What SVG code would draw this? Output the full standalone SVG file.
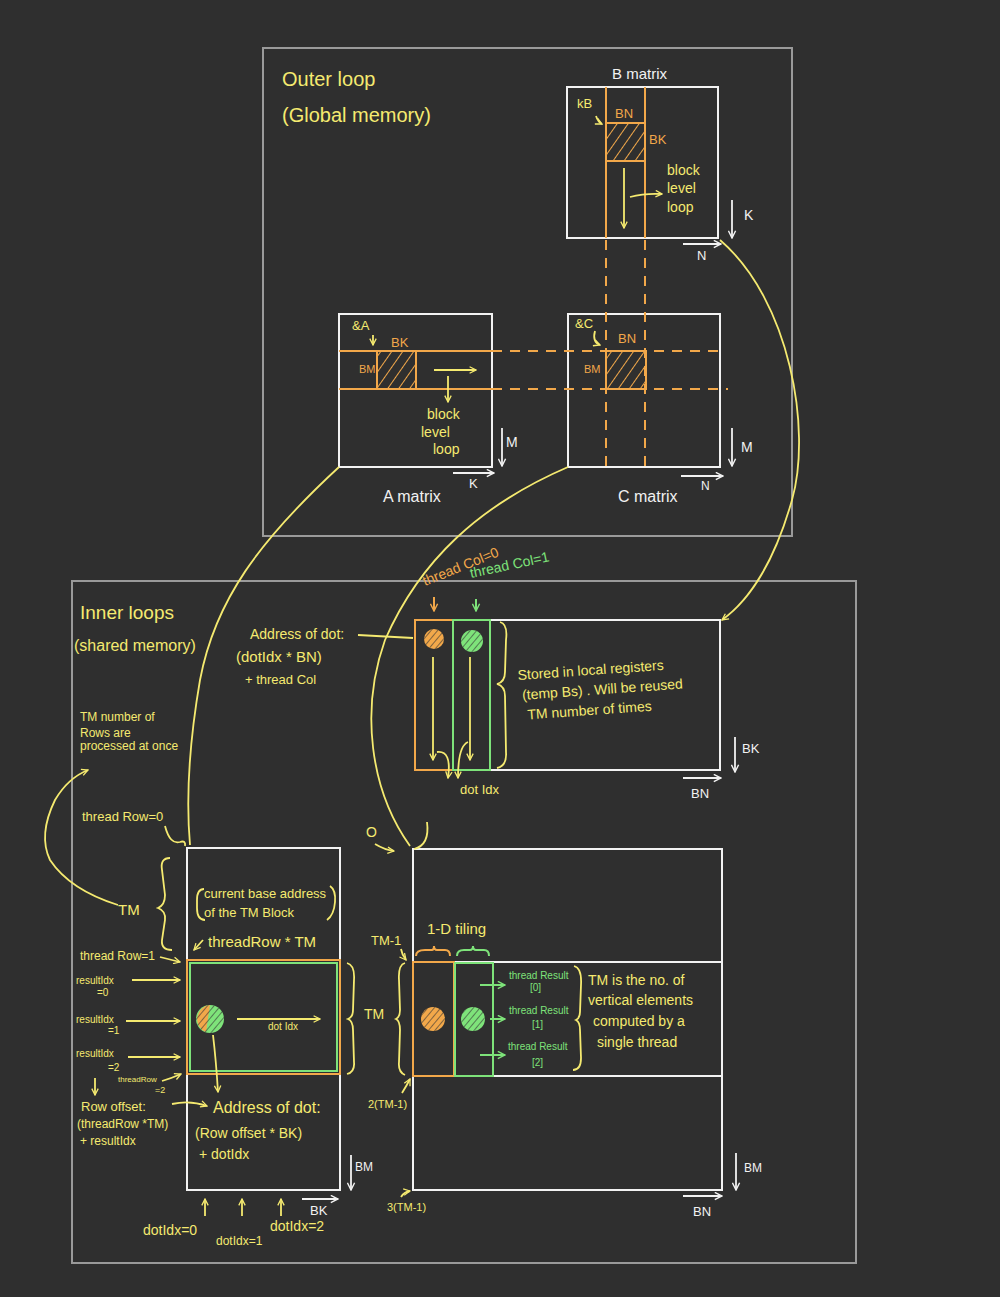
<svg xmlns="http://www.w3.org/2000/svg" width="1000" height="1297" viewBox="0 0 1000 1297">
<style>
text{font-family:"Liberation Sans","DejaVu Sans",sans-serif}
.frame{fill:none;stroke:#9a9a9a;stroke-width:2}
.box{fill:none;stroke:#f2f2f2;stroke-width:2}
.ol{fill:none;stroke:#f2a84a;stroke-width:2}
.od{fill:none;stroke:#f2a84a;stroke-width:2;stroke-dasharray:10 8}
.gl{fill:none;stroke:#7ee37a;stroke-width:2}
.yl{fill:none;stroke:#f5ea70;stroke-width:1.8}
.wl{fill:none;stroke:#f2f2f2;stroke-width:1.8}
.ty{fill:#f5ea70}
.tw{fill:#f2f2f2}
.to{fill:#f2a84a}
.tg{fill:#7ee37a}
</style>
<defs>
<pattern id="hatch" width="9" height="9" patternUnits="userSpaceOnUse" patternTransform="rotate(35)">
<line x1="0" y1="0" x2="0" y2="9" stroke="#f2a84a" stroke-width="2"/>
</pattern>
<pattern id="hatchD" width="5" height="5" patternUnits="userSpaceOnUse" patternTransform="rotate(40)">
<line x1="0" y1="0" x2="0" y2="5" stroke="#333" stroke-width="1.2"/>
</pattern>
<marker id="ay" viewBox="0 0 10 10" refX="9" refY="5" markerWidth="8" markerHeight="8" orient="auto-start-reverse" markerUnits="userSpaceOnUse"><path d="M1,1 L9,5 L1,9" fill="none" stroke="#f5ea70" stroke-width="1.6"/></marker>
<marker id="aw" viewBox="0 0 10 10" refX="9" refY="5" markerWidth="9" markerHeight="9" orient="auto-start-reverse" markerUnits="userSpaceOnUse"><path d="M1,1 L9,5 L1,9" fill="none" stroke="#f2f2f2" stroke-width="1.6"/></marker>
<marker id="ao" viewBox="0 0 10 10" refX="9" refY="5" markerWidth="9" markerHeight="9" orient="auto-start-reverse" markerUnits="userSpaceOnUse"><path d="M1,1 L9,5 L1,9" fill="none" stroke="#f2a84a" stroke-width="1.6"/></marker>
<marker id="ag" viewBox="0 0 10 10" refX="9" refY="5" markerWidth="9" markerHeight="9" orient="auto-start-reverse" markerUnits="userSpaceOnUse"><path d="M1,1 L9,5 L1,9" fill="none" stroke="#7ee37a" stroke-width="1.6"/></marker>
</defs>
<rect width="1000" height="1297" fill="#2f2f2f"/>

<g id="outer-frame">
<rect class="frame" x="263" y="48" width="529" height="488"/>
<text class="ty" x="282" y="86" font-size="20">Outer loop</text>
<text class="ty" x="282" y="122" font-size="20">(Global memory)</text>
</g>

<g id="b-matrix">
<text class="tw" x="612" y="79" font-size="15">B matrix</text>
<rect class="box" x="567" y="87" width="151" height="151"/>
<line class="ol" x1="606" y1="87" x2="606" y2="238"/>
<line class="ol" x1="645" y1="87" x2="645" y2="238"/>
<rect x="606" y="123" width="39" height="38" fill="url(#hatch)" stroke="#f2a84a" stroke-width="2"/>
<text class="to" x="615" y="118" font-size="13">BN</text>
<text class="to" x="649" y="144" font-size="13">BK</text>
<text class="ty" x="577" y="108" font-size="13">kB</text>
<path class="yl" d="M596,116 Q598,122 602,124" marker-end="url(#ay)"/>
<line class="yl" x1="624" y1="168" x2="624" y2="228" marker-end="url(#ay)"/>
<path class="yl" d="M630,197 Q645,193 662,194" marker-end="url(#ay)"/>
<text class="ty" x="667" y="175" font-size="14">block</text>
<text class="ty" x="667" y="193" font-size="14">level</text>
<text class="ty" x="667" y="212" font-size="14">loop</text>
<line class="wl" x1="732" y1="200" x2="732" y2="238" marker-end="url(#aw)"/>
<text class="tw" x="744" y="220" font-size="14">K</text>
<line class="wl" x1="683" y1="244" x2="721" y2="244" marker-end="url(#aw)"/>
<text class="tw" x="697" y="260" font-size="13">N</text>
</g>

<g id="a-matrix">
<rect class="box" x="339" y="314" width="153" height="153"/>
<line class="ol" x1="339" y1="351" x2="492" y2="351"/>
<line class="ol" x1="339" y1="389" x2="492" y2="389"/>
<rect x="377" y="351" width="39" height="38" fill="url(#hatch)" stroke="#f2a84a" stroke-width="2"/>
<text class="ty" x="352" y="330" font-size="13">&amp;A</text>
<path class="yl" d="M373,335 L373,345" marker-end="url(#ay)"/>
<text class="to" x="391" y="347" font-size="13">BK</text>
<text class="to" x="359" y="373" font-size="11">BM</text>
<line class="yl" x1="434" y1="370" x2="476" y2="370" marker-end="url(#ay)"/>
<line class="yl" x1="448" y1="376" x2="448" y2="402" marker-end="url(#ay)"/>
<text class="ty" x="427" y="419" font-size="14">block</text>
<text class="ty" x="421" y="437" font-size="14">level</text>
<text class="ty" x="433" y="454" font-size="14">loop</text>
<line class="wl" x1="502" y1="428" x2="502" y2="466" marker-end="url(#aw)"/>
<text class="tw" x="506" y="447" font-size="14">M</text>
<line class="wl" x1="453" y1="473" x2="494" y2="473" marker-end="url(#aw)"/>
<text class="tw" x="469" y="488" font-size="13">K</text>
<text class="tw" x="383" y="502" font-size="16">A  matrix</text>
</g>

<g id="c-matrix">
<rect class="box" x="568" y="314" width="152" height="153"/>
<line class="od" x1="606" y1="240" x2="606" y2="467"/>
<line class="od" x1="645" y1="240" x2="645" y2="467"/>
<line class="od" x1="492" y1="351" x2="720" y2="351"/>
<line class="od" x1="492" y1="389" x2="728" y2="389"/>
<rect x="606" y="351" width="40" height="38" fill="url(#hatch)" stroke="#f2a84a" stroke-width="2"/>
<text class="ty" x="575" y="328" font-size="13">&amp;C</text>
<path class="yl" d="M595,331 Q592,342 600,345" marker-end="url(#ay)"/>
<text class="to" x="618" y="343" font-size="13">BN</text>
<text class="to" x="584" y="373" font-size="11">BM</text>
<line class="wl" x1="732" y1="428" x2="732" y2="466" marker-end="url(#aw)"/>
<text class="tw" x="741" y="452" font-size="14">M</text>
<line class="wl" x1="681" y1="476" x2="723" y2="476" marker-end="url(#aw)"/>
<text class="tw" x="701" y="490" font-size="12">N</text>
<text class="tw" x="618" y="502" font-size="16">C matrix</text>
</g>

<g id="inner-frame">
<rect class="frame" x="72" y="581" width="784" height="682"/>
<text class="ty" x="80" y="619" font-size="19">Inner loops</text>
<text class="ty" x="74" y="651" font-size="16">(shared memory)</text>
<text class="ty" x="80" y="721" font-size="12">TM number of</text>
<text class="ty" x="80" y="737" font-size="12">Rows are</text>
<text class="ty" x="80" y="750" font-size="12">processed at once</text>
</g>

<g id="b-tile">
<rect class="box" x="415" y="620" width="305" height="150"/>
<rect class="ol" x="415" y="620" width="38" height="150"/>
<rect class="gl" x="453" y="620" width="37" height="150"/>
<circle cx="434" cy="639" r="10" fill="#f2a84a"/>
<circle cx="434" cy="639" r="10" fill="url(#hatchD)"/>
<circle cx="472" cy="641" r="11" fill="#7ee37a"/>
<circle cx="472" cy="641" r="11" fill="url(#hatchD)"/>
<line class="yl" x1="433" y1="657" x2="433" y2="760" marker-end="url(#ay)"/>
<line class="yl" x1="470" y1="657" x2="470" y2="760" marker-end="url(#ay)"/>
<path class="yl" d="M437,752 Q452,750 448,778" marker-end="url(#ay)"/>
<path class="yl" d="M468,742 Q458,746 458,778" marker-end="url(#ay)"/>
<text class="ty" x="460" y="794" font-size="13">dot  Idx</text>
<text class="to" x="425" y="586" font-size="14" transform="rotate(-22 425 586)">thread Col=0</text>
<text class="tg" x="471" y="578" font-size="14" transform="rotate(-12 471 578)">thread Col=1</text>
<line class="ol" x1="434" y1="597" x2="434" y2="611" marker-end="url(#ao)"/>
<line class="gl" x1="476" y1="599" x2="476" y2="611" marker-end="url(#ag)"/>
<path class="yl" d="M500,622 Q508,624 506,640 L505,672 Q505,682 497,684 Q505,686 505,696 L506,752 Q507,766 497,768"/>
<g transform="rotate(-4 518 680)">
<text class="ty" x="518" y="680" font-size="14">Stored in local registers</text>
<text class="ty" x="521" y="700" font-size="14">(temp Bs) . Will be reused</text>
<text class="ty" x="525" y="720" font-size="14">TM  number of times</text>
</g>
<line class="wl" x1="735" y1="737" x2="735" y2="772" marker-end="url(#aw)"/>
<text class="tw" x="742" y="753" font-size="13">BK</text>
<line class="wl" x1="683" y1="778" x2="721" y2="778" marker-end="url(#aw)"/>
<text class="tw" x="691" y="798" font-size="13">BN</text>
<text class="ty" x="250" y="639" font-size="14">Address of dot:</text>
<line class="yl" x1="358" y1="635" x2="413" y2="638"/>
<text class="ty" x="236" y="662" font-size="15">(dotIdx * BN)</text>
<text class="ty" x="245" y="684" font-size="13">+ thread Col</text>
</g>

<g id="a-tile">
<rect class="box" x="187" y="848" width="153" height="342"/>
<rect class="ol" x="187" y="960" width="153" height="114"/>
<rect class="gl" x="190" y="963" width="147" height="108"/>
<circle cx="210" cy="1019" r="14" fill="#7ee37a"/>
<path d="M210,1005 A14,14 0 0 0 206,1032 Z" fill="#f2a84a"/>
<circle cx="210" cy="1019" r="14" fill="url(#hatchD)"/>
<line class="yl" x1="237" y1="1019" x2="320" y2="1019" marker-end="url(#ay)"/>
<text class="ty" x="268" y="1030" font-size="10">dot Idx</text>
<path class="yl" d="M213,1035 Q216,1060 218,1092" marker-end="url(#ay)"/>
<path class="yl" d="M204,889 Q197,889 197,900 L197,908 Q197,920 205,920"/>
<text class="ty" x="204" y="898" font-size="13">current base address</text>
<text class="ty" x="204" y="917" font-size="13">of the TM Block</text>
<path class="yl" d="M330,886 Q336,890 335,902 Q334,915 327,920"/>
<path class="yl" d="M203,940 L194,950" marker-end="url(#ay)"/>
<text class="ty" x="208" y="947" font-size="15">threadRow * TM</text>
<path class="yl" d="M347,963 Q355,965 354,980 L353,1010 Q353,1017 348,1019 Q353,1021 353,1030 L354,1062 Q355,1072 347,1074"/>
<text class="ty" x="364" y="1019" font-size="14">TM</text>
<text class="ty" x="213" y="1113" font-size="16">Address of dot:</text>
<text class="ty" x="195" y="1138" font-size="14">(Row offset * BK)</text>
<text class="ty" x="199" y="1159" font-size="14">+ dotIdx</text>
<line class="wl" x1="351" y1="1155" x2="351" y2="1190" marker-end="url(#aw)"/>
<text class="tw" x="355" y="1171" font-size="12">BM</text>
<line class="wl" x1="302" y1="1199" x2="338" y2="1199" marker-end="url(#aw)"/>
<text class="tw" x="310" y="1215" font-size="13">BK</text>
<line class="yl" x1="205" y1="1216" x2="205" y2="1199" marker-end="url(#ay)"/>
<line class="yl" x1="242" y1="1216" x2="242" y2="1199" marker-end="url(#ay)"/>
<line class="yl" x1="281" y1="1216" x2="281" y2="1199" marker-end="url(#ay)"/>
<text class="ty" x="143" y="1235" font-size="14">dotIdx=0</text>
<text class="ty" x="216" y="1245" font-size="12">dotIdx=1</text>
<text class="ty" x="270" y="1231" font-size="14">dotIdx=2</text>
</g>

<g id="left-labels">
<text class="ty" x="82" y="821" font-size="13">thread Row=0</text>
<path class="yl" d="M165,826 Q170,845 180,842 Q186,840 185,846"/>
<path class="yl" d="M170,858 Q160,858 162,870 L165,895 Q165,905 158,908 Q166,911 165,920 L162,940 Q161,950 172,950"/>
<text class="ty" x="118" y="915" font-size="15">TM</text>
<path class="yl" d="M118,905 Q70,890 50,860 Q38,835 55,800 Q68,778 88,770" marker-end="url(#ay)"/>
<text class="ty" x="80" y="960" font-size="12">thread Row=1</text>
<line class="yl" x1="160" y1="957" x2="180" y2="962" marker-end="url(#ay)"/>
<text class="ty" x="76" y="984" font-size="10">resultIdx</text>
<text class="ty" x="97" y="996" font-size="10">=0</text>
<line class="yl" x1="132" y1="980" x2="180" y2="980" marker-end="url(#ay)"/>
<text class="ty" x="76" y="1023" font-size="10">resultIdx</text>
<text class="ty" x="108" y="1034" font-size="10">=1</text>
<line class="yl" x1="126" y1="1021" x2="180" y2="1021" marker-end="url(#ay)"/>
<text class="ty" x="76" y="1057" font-size="10">resultIdx</text>
<text class="ty" x="108" y="1071" font-size="10">=2</text>
<line class="yl" x1="128" y1="1057" x2="180" y2="1057" marker-end="url(#ay)"/>
<text class="ty" x="118" y="1082" font-size="8">threadRow</text>
<text class="ty" x="155" y="1093" font-size="9">=2</text>
<path class="yl" d="M162,1081 Q172,1078 181,1074" marker-end="url(#ay)"/>
<line class="yl" x1="95" y1="1078" x2="95" y2="1095" marker-end="url(#ay)"/>
<text class="ty" x="81" y="1111" font-size="13">Row offset:</text>
<text class="ty" x="77" y="1128" font-size="12">(threadRow *TM)</text>
<text class="ty" x="80" y="1145" font-size="12">+ resultIdx</text>
<path class="yl" d="M172,1104 Q190,1100 207,1106" marker-end="url(#ay)"/>
</g>

<g id="c-tile">
<rect class="box" x="413" y="849" width="309" height="341"/>
<line class="box" x1="413" y1="962" x2="722" y2="962"/>
<line class="box" x1="413" y1="1076" x2="722" y2="1076"/>
<rect class="ol" x="413" y="962" width="41" height="114"/>
<rect class="gl" x="455" y="963" width="38" height="113"/>
<circle cx="433" cy="1019" r="12" fill="#f2a84a"/>
<circle cx="433" cy="1019" r="12" fill="url(#hatchD)"/>
<circle cx="473" cy="1019" r="12" fill="#7ee37a"/>
<circle cx="473" cy="1019" r="12" fill="url(#hatchD)"/>
<text class="ty" x="366" y="837" font-size="14">O</text>
<path class="yl" d="M375,844 Q385,850 394,851" marker-end="url(#ay)"/>
<path class="yl" d="M427,822 Q430,845 414,849"/>
<text class="ty" x="371" y="945" font-size="13">TM-1</text>
<path class="yl" d="M401,949 Q402,955 406,960" marker-end="url(#ay)"/>
<text class="ty" x="427" y="934" font-size="15">1-D tiling</text>
<path class="ol" d="M416,956 Q416,950 425,950 L432,950 Q434,950 434,946 Q434,950 437,950 L445,950 Q450,950 450,956"/>
<path class="gl" d="M457,956 Q457,950 464,950 L470,950 Q473,950 473,946 Q473,950 476,950 L484,950 Q489,950 489,956"/>
<path class="yl" d="M405,963 Q398,965 399,980 L400,1010 Q400,1017 396,1019 Q400,1021 400,1030 L399,1062 Q398,1072 405,1075"/>
<line class="gl" x1="480" y1="985" x2="505" y2="985" marker-end="url(#ag)"/>
<line class="gl" x1="490" y1="1019" x2="505" y2="1019" marker-end="url(#ag)"/>
<line class="gl" x1="480" y1="1055" x2="505" y2="1055" marker-end="url(#ag)"/>
<text class="tg" x="509" y="979" font-size="10">thread Result</text>
<text class="tg" x="530" y="991" font-size="10">[0]</text>
<text class="tg" x="509" y="1014" font-size="10">thread Result</text>
<text class="tg" x="532" y="1028" font-size="10">[1]</text>
<text class="tg" x="508" y="1050" font-size="10">thread Result</text>
<text class="tg" x="532" y="1066" font-size="10">[2]</text>
<path class="yl" d="M574,966 Q582,968 581,985 L580,1012 Q580,1018 576,1020 Q580,1022 580,1030 L581,1058 Q581,1070 573,1070"/>
<text class="ty" x="588" y="985" font-size="14">TM is the no. of</text>
<text class="ty" x="588" y="1005" font-size="14">vertical elements</text>
<text class="ty" x="593" y="1026" font-size="14">computed by a</text>
<text class="ty" x="597" y="1047" font-size="14">single thread</text>
<text class="ty" x="368" y="1108" font-size="11">2(TM-1)</text>
<path class="yl" d="M402,1093 Q407,1085 410,1079" marker-end="url(#ay)"/>
<text class="ty" x="387" y="1211" font-size="11">3(TM-1)</text>
<path class="yl" d="M401,1197 Q404,1192 410,1191" marker-end="url(#ay)"/>
<line class="wl" x1="736" y1="1153" x2="736" y2="1190" marker-end="url(#aw)"/>
<text class="tw" x="744" y="1172" font-size="12">BM</text>
<line class="wl" x1="683" y1="1196" x2="722" y2="1196" marker-end="url(#aw)"/>
<text class="tw" x="693" y="1216" font-size="13">BN</text>
</g>

<g id="connectors">
<path class="yl" d="M720,240 C790,300 812,430 792,500 C775,560 750,600 722,620" marker-end="url(#ay)"/>
<path class="yl" d="M339,467 C260,540 215,600 200,680 C188,750 186,800 190,845"/>
<path class="yl" d="M568,467 C480,505 420,560 385,640 C360,710 370,790 410,846"/>
</g>
</svg>
